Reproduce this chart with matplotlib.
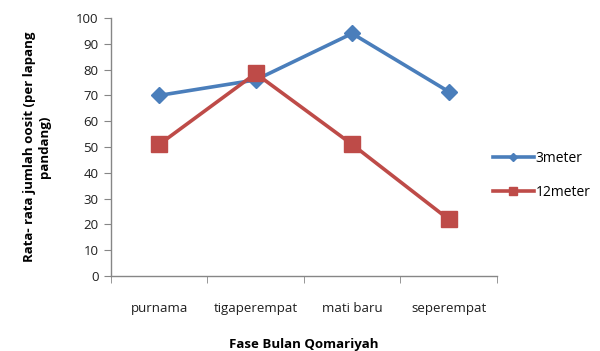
import matplotlib
matplotlib.use('Agg')
import matplotlib.pyplot as plt

plt.rcParams['font.family'] = ['Open Sans', 'DejaVu Sans']

categories = ["purnama", "tigaperempat", "mati baru", "seperempat"]
series_names = ["3meter", "12meter"]
values_3m = [70, 76, 94, 71.5]
values_12m = [51, 78.5, 51, 22]

BLUE = "#4a7ebb"
RED = "#be4b48"
AXIS_GRAY = "#868686"

fig = plt.figure(figsize=(6, 3.51), dpi=100)
ax = fig.add_axes([0.185, 0.2137, 0.643, 0.735])

x = list(range(len(categories)))
ax.plot(x, values_3m, color=BLUE, lw=2.6, marker="D", ms=8,
        label=series_names[0])
ax.plot(x, values_12m, color=RED, lw=2.6, marker="s", ms=11,
        label=series_names[1])

ax.set_xlim(-0.5, len(categories) - 0.5)
ax.set_ylim(0, 100)
ax.set_yticks(range(0, 101, 10))
ax.set_xticks(x)
ax.set_xticklabels(categories)
ax.set_xticks([i - 0.5 for i in range(len(categories) + 1)], minor=True)
ax.tick_params(axis="x", which="major", length=0, pad=19)
ax.tick_params(axis="x", which="minor", length=5, color=AXIS_GRAY, direction="out")
ax.tick_params(axis="y", length=5, color=AXIS_GRAY, direction="out", pad=4)
ax.tick_params(labelsize=9.5, labelcolor="#1f1f1f")

for side in ("top", "right"):
    ax.spines[side].set_visible(False)
for side in ("left", "bottom"):
    ax.spines[side].set_color(AXIS_GRAY)
    ax.spines[side].set_linewidth(1.0)

ax.set_xlabel("Fase Bulan Qomariyah", fontsize=9.5, fontweight="bold", labelpad=16)
ax.set_ylabel("Rata- rata jumlah oosit (per lapang\npandang)", fontsize=9.5,
              fontweight="bold", labelpad=18, linespacing=1.15)

leg = fig.legend(loc="center left", bbox_to_anchor=(0.80, 0.5), frameon=False,
                 fontsize=10, handlelength=3.0, handletextpad=0.1,
                 labelspacing=1.4, markerscale=0.5)

fig.savefig("out.png", dpi=100)
